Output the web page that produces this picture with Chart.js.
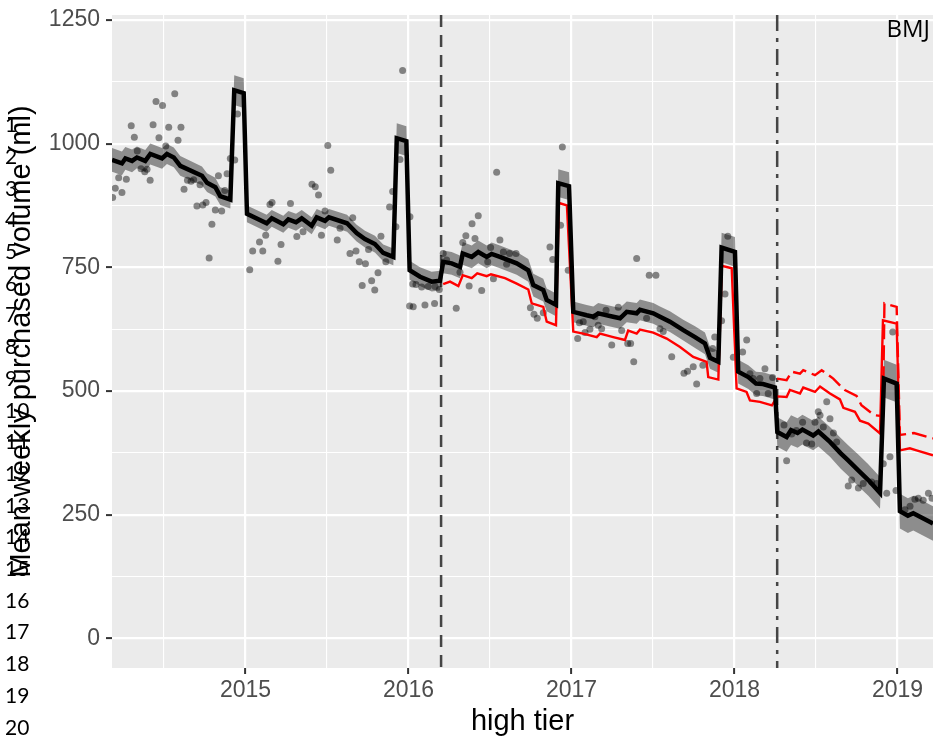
<!DOCTYPE html>
<html>
<head>
<meta charset="utf-8">
<title>Mean weekly purchased volume, high tier</title>
<script src="https://cdn.jsdelivr.net/npm/chart.js@4.4.0/dist/chart.umd.min.js"></script>
<style>
  html, body { margin: 0; padding: 0; background: #ffffff; }
  #wrap { width: 933px; height: 747px; }
</style>
</head>
<body>
<div id="wrap"><canvas id="volumeChart" width="933" height="747"></canvas></div>
<script>
// fitted model (decimal year, ml) and half width of its confidence band
var fitYear = [2014.181, 2014.242, 2014.263, 2014.304, 2014.334, 2014.385, 2014.416, 2014.488, 2014.518, 2014.560,
  2014.600, 2014.733, 2014.764, 2014.815, 2014.845, 2014.907, 2014.931, 2014.989, 2015.009, 2015.130,
  2015.161, 2015.232, 2015.263, 2015.310, 2015.345, 2015.406, 2015.437, 2015.488, 2015.512, 2015.623,
  2015.682, 2015.733, 2015.794, 2015.845, 2015.907, 2015.928, 2015.987, 2016.007, 2016.071, 2016.142,
  2016.193, 2016.213, 2016.265, 2016.316, 2016.333, 2016.388, 2016.428, 2016.480, 2016.510, 2016.561,
  2016.664, 2016.735, 2016.766, 2016.827, 2016.848, 2016.905, 2016.919, 2016.985, 2017.011, 2017.093,
  2017.134, 2017.164, 2017.256, 2017.298, 2017.339, 2017.400, 2017.420, 2017.502, 2017.543, 2017.604,
  2017.686, 2017.758, 2017.819, 2017.850, 2017.901, 2017.921, 2018.003, 2018.023, 2018.085, 2018.132,
  2018.175, 2018.248, 2018.263, 2018.320, 2018.347, 2018.387, 2018.417, 2018.483, 2018.515, 2018.586,
  2018.652, 2018.696, 2018.758, 2018.821, 2018.893, 2018.917, 2018.995, 2019.015, 2019.064, 2019.097, 2019.218];
var fitValue = [967, 960, 970, 965, 972, 965, 979, 970, 979, 972,
  955, 935, 921, 912, 894, 887, 1108, 1102, 858, 839,
  849, 837, 847, 841, 849, 834, 851, 844, 851, 839,
  819, 807, 797, 779, 771, 1011, 1005, 744, 731, 721,
  723, 761, 758, 751, 778, 771, 781, 771, 777, 771,
  758, 744, 714, 704, 684, 674, 920, 914, 660, 653,
  650, 657, 650, 647, 660, 657, 664, 657, 650, 640,
  623, 609, 596, 567, 559, 790, 781, 539, 528, 515,
  514, 507, 417, 407, 421, 415, 422, 410, 418, 397,
  374, 360, 340, 320, 294, 525, 515, 257, 248, 253, 232];
var fitHalf = [24, 24, 23, 23, 22, 22, 21, 21, 20, 20,
  20, 19, 19, 19, 18, 18, 30, 30, 17, 17,
  17, 17, 17, 17, 17, 17, 17, 17, 17, 17,
  17, 17, 17, 17, 17, 30, 30, 19, 19, 20,
  20, 23, 23, 23, 23, 23, 23, 23, 23, 23,
  23, 23, 23, 23, 23, 23, 28, 28, 21, 21,
  21, 21, 21, 21, 21, 21, 21, 21, 21, 21,
  21, 22, 22, 22, 22, 30, 30, 24, 24, 24,
  24, 24, 30, 30, 30, 30, 30, 30, 30, 30,
  31, 31, 32, 32, 32, 38, 38, 35, 35, 35, 35];

// counterfactual without the levy announcement
var cfYear = [2016.213, 2016.255, 2016.306, 2016.333, 2016.388, 2016.422, 2016.480, 2016.506, 2016.592, 2016.664,
  2016.735, 2016.756, 2016.827, 2016.848, 2016.905, 2016.923, 2016.972, 2017.011, 2017.072, 2017.155,
  2017.175, 2017.256, 2017.328, 2017.348, 2017.400, 2017.420, 2017.502, 2017.584, 2017.666, 2017.747,
  2017.829, 2017.839, 2017.901, 2017.923, 2017.983, 2018.013, 2018.074, 2018.095, 2018.156, 2018.230,
  2018.263, 2018.320, 2018.340, 2018.402, 2018.422, 2018.494, 2018.525, 2018.586, 2018.647, 2018.668,
  2018.739, 2018.770, 2018.821, 2018.893, 2018.911, 2018.995, 2019.015, 2019.076, 2019.117, 2019.218];
var cfValue = [716, 721, 712, 734, 728, 738, 732, 736, 728, 717,
  705, 677, 670, 640, 633, 880, 875, 620, 616, 609,
  616, 609, 603, 622, 616, 624, 618, 606, 589, 569,
  559, 528, 523, 753, 748, 505, 498, 481, 478, 471,
  489, 488, 502, 495, 507, 498, 509, 495, 483, 466,
  458, 440, 434, 414, 643, 636, 380, 384, 380, 370];

// counterfactual from the levy start
var levyYear = [2018.261, 2018.320, 2018.351, 2018.402, 2018.422, 2018.494, 2018.535, 2018.606, 2018.657, 2018.677,
  2018.749, 2018.779, 2018.858, 2018.911, 2018.920, 2018.995, 2019.015, 2019.101, 2019.218];
var levyValue = [525, 522, 539, 535, 542, 532, 542, 525, 508, 502,
  490, 471, 451, 449, 677, 670, 411, 415, 404];

// weekly observations
var obsYear = [2014.185, 2014.201, 2014.222, 2014.242, 2014.269, 2014.299, 2014.318, 2014.336, 2014.359, 2014.382,
  2014.396, 2014.415, 2014.433, 2014.451, 2014.469, 2014.491, 2014.511, 2014.529, 2014.566, 2014.586,
  2014.604, 2014.623, 2014.644, 2014.666, 2014.682, 2014.721, 2014.702, 2014.738, 2014.758, 2014.777,
  2014.794, 2014.815, 2014.834, 2014.854, 2014.873, 2014.887, 2014.907, 2014.934, 2014.951, 2015.026,
  2015.044, 2015.086, 2015.106, 2015.124, 2015.150, 2015.163, 2015.199, 2015.218, 2015.276, 2015.315,
  2015.353, 2015.408, 2015.428, 2015.448, 2015.466, 2015.488, 2015.505, 2015.523, 2015.563, 2015.580,
  2015.658, 2015.641, 2015.678, 2015.698, 2015.736, 2015.716, 2015.755, 2015.774, 2015.793, 2015.813,
  2015.831, 2015.861, 2015.884, 2015.903, 2015.923, 2015.948, 2015.964, 2016.009, 2016.026, 2016.046,
  2016.081, 2016.121, 2016.163, 2016.189, 2016.007, 2016.029, 2016.101, 2016.160, 2016.213, 2016.234,
  2016.293, 2016.316, 2016.333, 2016.352, 2016.372, 2016.390, 2016.408, 2016.428, 2016.449, 2016.486,
  2016.504, 2016.521, 2016.541, 2016.561, 2016.582, 2016.602, 2016.620, 2016.660, 2016.748, 2016.770,
  2016.790, 2016.827, 2016.868, 2016.885, 2016.933, 2016.944, 2016.980, 2017.038, 2017.049, 2017.072,
  2017.083, 2017.113, 2017.144, 2017.164, 2017.185, 2017.212, 2017.247, 2017.287, 2017.308, 2017.345,
  2017.363, 2017.382, 2017.400, 2017.461, 2017.477, 2017.518, 2017.543, 2017.563, 2017.615, 2017.690,
  2017.712, 2017.747, 2017.768, 2017.806, 2017.866, 2017.879, 2017.921, 2017.942, 2017.959, 2017.993,
  2018.050, 2018.075, 2018.095, 2018.115, 2018.136, 2018.156, 2018.187, 2018.207, 2018.234, 2018.304,
  2018.320, 2018.351, 2018.380, 2018.418, 2018.442, 2018.474, 2018.494, 2018.514, 2018.525, 2018.545,
  2018.566, 2018.586, 2018.607, 2018.627, 2018.698, 2018.719, 2018.760, 2018.790, 2018.842, 2018.872,
  2018.913, 2018.934, 2018.954, 2018.971, 2018.991, 2019.046, 2019.077, 2019.107, 2019.128, 2019.158,
  2019.190, 2019.212];
var obsValue = [891, 910, 931, 901, 928, 1036, 1013, 985, 949, 943,
  948, 926, 1038, 1085, 1012, 1077, 995, 1033, 1101, 1007,
  1033, 908, 926, 924, 927, 917, 874, 876, 881, 769,
  837, 866, 935, 864, 905, 939, 970, 967, 1060, 745,
  783, 801, 783, 815, 877, 881, 762, 796, 879, 812,
  822, 918, 913, 896, 815, 864, 996, 946, 805, 829,
  850, 778, 783, 761, 757, 713, 786, 723, 704, 739,
  813, 761, 872, 903, 832, 968, 1148, 852, 716, 715,
  710, 711, 711, 705, 672, 670, 674, 677, 778, 765,
  667, 740, 800, 814, 712, 838, 808, 854, 703, 761,
  790, 727, 942, 805, 781, 756, 778, 778, 668, 655,
  647, 658, 791, 766, 835, 993, 744, 606, 638, 640,
  618, 625, 650, 633, 626, 663, 593, 669, 622, 596,
  596, 559, 768, 647, 734, 734, 626, 620, 569, 536,
  540, 549, 514, 552, 586, 609, 642, 696, 813, 568,
  579, 603, 535, 525, 495, 525, 545, 495, 527, 431,
  359, 413, 420, 437, 395, 393, 437, 458, 451, 427,
  478, 444, 415, 397, 308, 320, 304, 313, 316, 313,
  353, 293, 367, 619, 299, 260, 267, 281, 283, 279,
  293, 283];

// intervention dates
var announceYear = 2016.2;
var levyStartYear = 2018.262;

// axis ranges and grid positions
var xMin = 2014.181, xMax = 2019.218;
var yMin = -60, yMax = 1260;
var xGrid = [2014.5, 2015, 2015.5, 2016, 2016.5, 2017, 2017.5, 2018, 2018.5, 2019];
var yGrid = [0, 125, 250, 375, 500, 625, 750, 875, 1000, 1125, 1250];

var sans = "'Liberation Sans', Arial, Helvetica, sans-serif";
Chart.defaults.font.family = sans;

function toPoints(xs, ys) {
  return xs.map(function (x, i) { return { x: x, y: ys[i] }; });
}
function isWholeYear(v) { return Math.abs(v - Math.round(v)) < 1e-6; }
function isMajorY(v) { return v % 250 === 0; }

var bandUpper = fitYear.map(function (x, i) { return { x: x, y: fitValue[i] + fitHalf[i] }; });
var bandLower = fitYear.map(function (x, i) { return { x: x, y: fitValue[i] - fitHalf[i] }; });

// grey panel, intervention rules and the page marks around the plot
var pageMarks = {
  id: 'pageMarks',
  beforeDraw: function (chart) {
    var a = chart.chartArea, ctx = chart.ctx;
    ctx.save();
    ctx.fillStyle = '#EBEBEB';
    ctx.fillRect(a.left, a.top, a.right - a.left, a.bottom - a.top);
    ctx.restore();
  },
  beforeDatasetsDraw: function (chart) {
    var a = chart.chartArea, ctx = chart.ctx;
    var rules = [[announceYear, [12, 8]], [levyStartYear, [16, 7, 4, 7]]];
    rules.forEach(function (r) {
      var x = chart.scales.x.getPixelForValue(r[0]);
      ctx.save();
      ctx.beginPath();
      ctx.setLineDash(r[1]);
      ctx.lineWidth = 2.5;
      ctx.strokeStyle = '#454545';
      ctx.moveTo(x, a.top);
      ctx.lineTo(x, a.bottom);
      ctx.stroke();
      ctx.restore();
    });
  },
  afterDraw: function (chart) {
    var ctx = chart.ctx;
    ctx.save();
    ctx.fillStyle = '#000000';
    ctx.font = '21px Lato';
    ctx.textAlign = 'left';
    ctx.textBaseline = 'middle';
    for (var n = 1; n <= 20; n++) {
      ctx.fillText(String(n), 5, 125.5 + 31.7 * (n - 1));
    }
    ctx.font = "24px 'Open Sans'";
    ctx.textAlign = 'right';
    ctx.textBaseline = 'alphabetic';
    ctx.fillText('BMJ', 930, 37);
    ctx.restore();
  }
};

var vctx = document.getElementById('volumeChart').getContext('2d');
var volumeChart = new Chart(vctx, {
  type: 'line',
  data: {
    datasets: [{
      label: 'Fitted',
      data: toPoints(fitYear, fitValue),
      borderColor: '#000000',
      borderWidth: 4.5,
      borderJoinStyle: 'miter',
      pointRadius: 0,
      fill: false,
      order: 0
    }, {
      label: 'Counterfactual',
      data: toPoints(cfYear, cfValue),
      borderColor: '#FF0000',
      borderWidth: 2.4,
      pointRadius: 0,
      fill: false,
      order: 1
    }, {
      label: 'Counterfactual (levy)',
      data: toPoints(levyYear, levyValue),
      borderColor: '#FF0000',
      borderWidth: 2.4,
      borderDash: [15, 6],
      pointRadius: 0,
      fill: false,
      order: 1
    }, {
      label: 'Upper',
      data: bandUpper,
      borderColor: 'rgba(0,0,0,0)',
      borderWidth: 0,
      pointRadius: 0,
      fill: false,
      order: 2
    }, {
      label: 'Lower',
      data: bandLower,
      borderColor: 'rgba(0,0,0,0)',
      borderWidth: 0,
      pointRadius: 0,
      fill: '-1',
      backgroundColor: 'rgba(0,0,0,0.4)',
      order: 2
    }, {
      type: 'scatter',
      label: 'Weekly',
      data: toPoints(obsYear, obsValue),
      pointRadius: 3.5,
      pointBackgroundColor: 'rgba(0,0,0,0.45)',
      pointBorderWidth: 0,
      showLine: false,
      order: 3
    }]
  },
  options: {
    responsive: false,
    animation: false,
    devicePixelRatio: 1,
    layout: {
      autoPadding: false,
      padding: { top: 15, right: 0, bottom: 0, left: 0 }
    },
    plugins: {
      legend: {
        display: false
      },
      tooltip: {
        enabled: false
      }
    },
    scales: {
      x: {
        type: 'linear',
        min: xMin,
        max: xMax,
        afterBuildTicks: function (s) { s.ticks = xGrid.map(function (v) { return { value: v }; }); },
        afterFit: function (s) { s.height = 79; s.paddingLeft = 0; s.paddingRight = 0; },
        border: { display: false },
        grid: {
          color: '#FFFFFF',
          lineWidth: function (c) { return c.tick && isWholeYear(c.tick.value) ? 2.2 : 1.1; },
          tickLength: 6,
          tickWidth: 2,
          tickColor: function (c) { return c.tick && isWholeYear(c.tick.value) ? '#333333' : 'rgba(0,0,0,0)'; }
        },
        ticks: {
          autoSkip: false,
          maxRotation: 0,
          padding: 3,
          color: '#4D4D4D',
          font: { size: 23 },
          callback: function (v) { return isWholeYear(v) ? String(Math.round(v)) : ''; }
        },
        title: {
          display: true,
          text: 'high tier',
          color: '#000000',
          font: { size: 29 },
          padding: { top: 0, bottom: 8 }
        }
      },
      y: {
        min: yMin,
        max: yMax,
        afterBuildTicks: function (s) { s.ticks = yGrid.map(function (v) { return { value: v }; }); },
        afterFit: function (s) { s.width = 112; s.paddingTop = 0; s.paddingBottom = 0; },
        border: { display: false },
        grid: {
          color: '#FFFFFF',
          lineWidth: function (c) { return c.tick && isMajorY(c.tick.value) ? 2.2 : 1.1; },
          tickLength: 6,
          tickWidth: 2,
          tickColor: function (c) { return c.tick && isMajorY(c.tick.value) ? '#333333' : 'rgba(0,0,0,0)'; }
        },
        ticks: {
          padding: 6,
          color: '#4D4D4D',
          font: { size: 23 },
          callback: function (v) { return isMajorY(v) ? String(v) : ''; }
        },
        title: {
          display: true,
          text: 'Mean weekly purchased volume (ml)',
          color: '#000000',
          font: { size: 29 },
          padding: { top: 5, bottom: 0 }
        }
      }
    }
  },
  plugins: [pageMarks]
});
</script>
</body>
</html>
